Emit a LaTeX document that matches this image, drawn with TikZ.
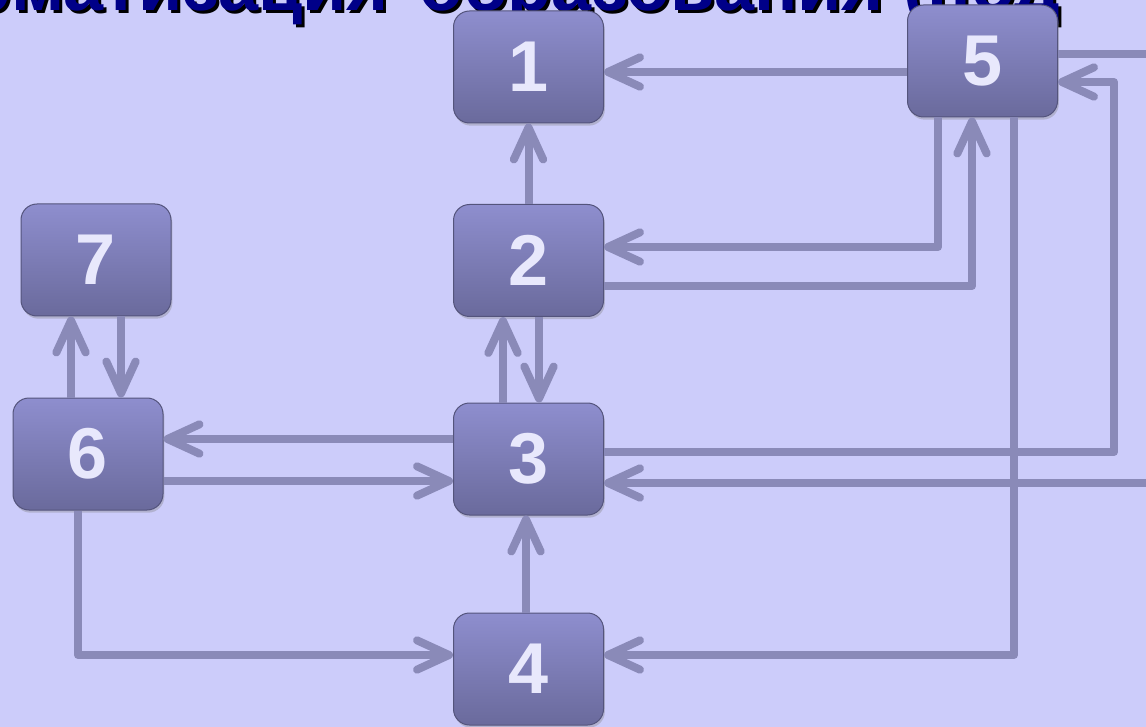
\documentclass[tikz,border=0pt]{standalone}
\usepackage{fontspec}
\setmainfont{Liberation Sans}
\usetikzlibrary{arrows.meta,shadows}

\definecolor{pagebg}{RGB}{204,204,250}
\definecolor{wire}{RGB}{138,138,184}
\definecolor{boxtop}{RGB}{142,142,206}
\definecolor{boxbot}{RGB}{106,106,156}
\definecolor{boxedge}{RGB}{84,84,124}
\definecolor{digit}{RGB}{232,232,252}
\definecolor{titleblue}{RGB}{0,0,136}

\tikzset{
  blk/.style={rounded corners=12pt, minimum width=112.5pt, minimum height=84pt,
    inner sep=0pt, draw=boxedge, line width=0.75pt,
    top color=boxtop, bottom color=boxbot,
    drop shadow={shadow xshift=1pt, shadow yshift=-2pt, opacity=0.35},
    font=\bfseries\fontsize{54}{54}\selectfont, text=digit},
  conn/.style={draw=wire, line width=6pt, line join=round,
    -{Straight Barb[length=24pt,width=22pt,line cap=round,line join=round]}},
  headline/.style={anchor=base west, inner sep=0pt,
    font=\bfseries\fontsize{54}{54}\selectfont}
}
\newcommand{\headtext}{\llap{Инфор}матизация\hspace{8pt} образования (под}

\begin{document}
\begin{tikzpicture}[x=0.75pt,y=-0.75pt]
\useasboundingbox (0,0) rectangle (1146,727);
\clip (0,0) rectangle (1146,727);
\fill[pagebg] (0,0) rectangle (1146,727);

% heading, cut by the top edge
\node[headline, text=black] (headshadow) at (14,14) {\headtext};
\node[headline, text=titleblue] (head) at (11,11) {\headtext};

% blocks
\node[blk] (n1) at (528.5,67) {1};
\node[blk] (n2) at (528.5,260.5) {2};
\node[blk] (n3) at (528.5,459) {3};
\node[blk] (n4) at (528.5,669) {4};
\node[blk] (n5) at (982.5,61) {5};
\node[blk] (n6) at (88,454) {6};
\node[blk] (n7) at (96,260) {7};

% track levels
\coordinate (h54) at (0,54);
\coordinate (h72) at (0,72);
\coordinate (h82) at (0,82);
\coordinate (h247) at (0,247);
\coordinate (h286) at (0,286);
\coordinate (h439) at (0,439);
\coordinate (h452) at (0,452);
\coordinate (h481) at (0,481);
\coordinate (h483) at (0,483);
\coordinate (h655) at (0,655);
\coordinate (v71) at (71,0);
\coordinate (v78) at (78,0);
\coordinate (v121) at (121,0);
\coordinate (v503) at (503,0);
\coordinate (v526) at (526,0);
\coordinate (v539) at (539,0);
\coordinate (v938) at (938,0);
\coordinate (v972) at (972,0);
\coordinate (v1014) at (1014,0);
\coordinate (c35) at (1114,82);
\coordinate (offright) at (1175,54);

% connectors
\draw[conn] (n5.west |- h72) -- (n1.east |- h72);
\draw[conn] (n2.north) -- (n1.south);
\draw[conn] (n5.south -| v938) |- (n2.east |- h247);
\draw[conn] (n2.east |- h286) -| (n5.south -| v972);
\draw[conn] (n5.south -| v1014) |- (n4.east |- h655);
\draw[conn] (n3.east |- h452) -| (c35) -- (n5.east |- h82);
\draw[conn] (n5.east |- h54) -- (offright) |- (n3.east |- h483);
\draw[conn] (n3.north -| v503) -- (n2.south -| v503);
\draw[conn] (n2.south -| v539) -- (n3.north -| v539);
\draw[conn] (n6.north -| v71) -- (n7.south -| v71);
\draw[conn] (n7.south -| v121) -- (n6.north -| v121);
\draw[conn] (n3.west |- h439) -- (n6.east |- h439);
\draw[conn] (n6.east |- h481) -- (n3.west |- h481);
\draw[conn] (n6.south -| v78) |- (n4.west |- h655);
\draw[conn] (n4.north -| v526) -- (n3.south -| v526);
\end{tikzpicture}
\end{document}
